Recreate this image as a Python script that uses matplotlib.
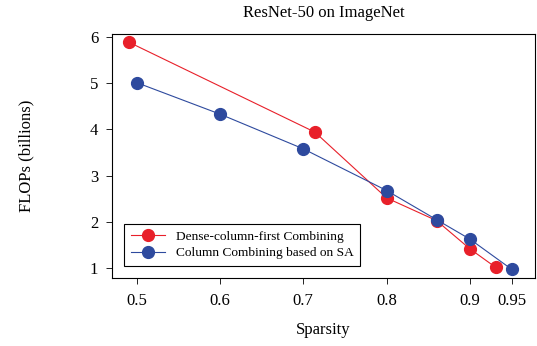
import matplotlib
matplotlib.use("Agg")
import matplotlib.pyplot as plt

plt.rcParams['font.family'] = ['Liberation Serif', 'DejaVu Serif']
plt.rcParams['mathtext.fontset'] = 'stix'

# Dense-column-first Combining
dense_x = [0.491, 0.714, 0.80, 0.86, 0.90, 0.931]
dense_y = [5.88, 3.94, 2.52, 2.03, 1.42, 1.02]

# Column Combining based on SA
sa_x = [0.50, 0.60, 0.70, 0.80, 0.86, 0.90, 0.95]
sa_y = [5.01, 4.33, 3.58, 2.68, 2.05, 1.63, 0.98]

xticks = [0.5, 0.6, 0.7, 0.8, 0.9, 0.95]
xticklabels = ['0.5', '0.6', '0.7', '0.8', '0.9', '0.95']
yticks = [1, 2, 3, 4, 5, 6]

fig = plt.figure(figsize=(5.37, 3.46), dpi=100)
ax = fig.add_axes([0.2086, 0.1965, 0.7874, 0.7052])

ax.plot(dense_x, dense_y, '-o', color='#e8202a', lw=0.8, ms=8.5,
        label='Dense-column-first Combining', zorder=3)
ax.plot(sa_x, sa_y, '-o', color='#2e4a9e', lw=0.8, ms=8.5,
        label='Column Combining based on SA', zorder=3)

ax.set_xlim(0.4704, 0.978)
ax.set_ylim(0.79, 6.06)
ax.set_xticks(xticks)
ax.set_xticklabels(xticklabels)
ax.set_yticks(yticks)
ax.tick_params(labelsize=12, direction='out', length=4, width=0.6)
ax.tick_params(axis='x', pad=7)
ax.tick_params(axis='y', pad=6)
for s in ax.spines.values():
    s.set_linewidth(0.8)

ax.set_title('ResNet-50 on ImageNet', fontsize=12, pad=12)
ax.set_xlabel('Sparsity', fontsize=12, labelpad=9)
ax.set_ylabel('FLOPs (billions)', fontsize=12, labelpad=40)

leg = ax.legend(loc='lower left', fontsize=9.6, fancybox=False, framealpha=1,
                edgecolor='black', borderaxespad=0.9, handlelength=2.6,
                borderpad=0.5, labelspacing=0.3)
leg.get_frame().set_linewidth(0.8)

fig.savefig('out.png', dpi=100)
